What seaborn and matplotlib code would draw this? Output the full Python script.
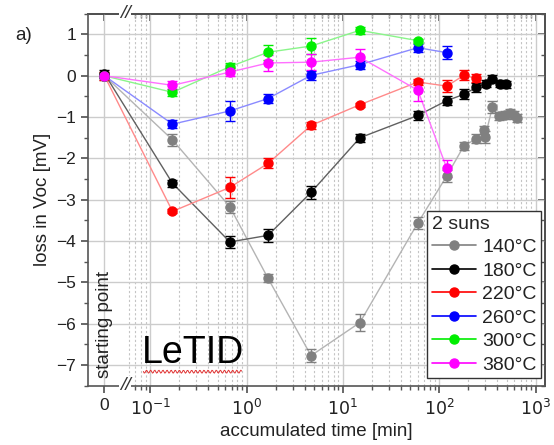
import numpy as np
import pandas as pd
import matplotlib
matplotlib.use("Agg")
import matplotlib.pyplot as plt
import seaborn as sns
from matplotlib.lines import Line2D
from matplotlib.ticker import FixedLocator, NullFormatter

# time 0 is drawn left of the axis break, at this log position
X0 = 10 ** -1.476

# 140 C
t_140 = [0, 0.17, 0.67, 1.67, 4.67, 15, 60, 120, 180, 243, 290, 300, 357, 415, 479, 540, 600, 650]
v_140 = [0.0, -1.55, -3.17, -4.9, -6.77, -5.97, -3.56, -2.42, -1.70, -1.52, -1.32, -1.48, -0.75, -0.98, -0.94, -0.90, -0.95, -1.02]
e_140 = [0.1, 0.15, 0.15, 0.1, 0.15, 0.2, 0.15, 0.15, 0.1, 0.1, 0.1, 0.15, 0.15, 0.1, 0.1, 0.1, 0.1, 0.1]
# 180 C
t_180 = [0, 0.17, 0.67, 1.67, 4.67, 15, 60, 120, 180, 243, 303, 357, 424, 490]
v_180 = [0.05, -2.6, -4.02, -3.86, -2.82, -1.5, -0.96, -0.6, -0.45, -0.28, -0.19, -0.07, -0.19, -0.21]
e_180 = [0.1, 0.08, 0.15, 0.15, 0.15, 0.1, 0.1, 0.1, 0.12, 0.1, 0.08, 0.08, 0.08, 0.08]
# 220 C
t_220 = [0, 0.17, 0.67, 1.67, 4.67, 15, 60, 120, 180, 243]
v_220 = [0.0, -3.28, -2.7, -2.12, -1.2, -0.7, -0.15, -0.25, 0.01, -0.06]
e_220 = [0.1, 0.05, 0.25, 0.12, 0.08, 0.05, 0.08, 0.15, 0.12, 0.1]
# 260 C
t_260 = [0, 0.17, 0.67, 1.67, 4.67, 15, 60, 120]
v_260 = [0.0, -1.17, -0.85, -0.55, 0.01, 0.27, 0.68, 0.56]
e_260 = [0.05, 0.1, 0.25, 0.1, 0.1, 0.1, 0.1, 0.15]
# 300 C
t_300 = [0, 0.17, 0.67, 1.67, 4.67, 15, 60]
v_300 = [0.0, -0.4, 0.22, 0.57, 0.72, 1.1, 0.85]
e_300 = [0.05, 0.08, 0.08, 0.18, 0.2, 0.08, 0.05]
# 380 C
t_380 = [0, 0.17, 0.67, 1.67, 4.67, 15, 60, 120]
v_380 = [0.0, -0.23, 0.09, 0.31, 0.33, 0.45, -0.35, -2.24]
e_380 = [0.05, 0.1, 0.1, 0.2, 0.2, 0.2, 0.25, 0.2]

labels = ["140°C", "180°C", "220°C", "260°C", "300°C", "380°C"]
series = [(t_140, v_140, e_140), (t_180, v_180, e_180), (t_220, v_220, e_220),
          (t_260, v_260, e_260), (t_300, v_300, e_300), (t_380, v_380, e_380)]
mcolors = ["#808080", "#000000", "#ff0000", "#0000ff", "#00ee00", "#ff00ff"]
lcolors = ["#b4b4b4", "#606060", "#ff8a8a", "#8a8aff", "#8af58a", "#ff70ff"]

rows = []
for lab, (t, v, e) in zip(labels, series):
    for ti, vi, ei in zip(t, v, e):
        rows.append({"temp": lab, "x": X0 if ti == 0 else ti, "loss": vi, "err": ei})
df = pd.DataFrame(rows)

sns.set_theme(style="ticks")
plt.rcParams["font.family"] = ["Liberation Sans", "DejaVu Sans"]
fig = plt.figure(figsize=(5.54, 4.45), dpi=100)
ax = fig.add_axes([0.159, 0.133, 0.825, 0.836])
ax.set_xscale("log")

sns.lineplot(data=df, x="x", y="loss", hue="temp", palette=dict(zip(labels, lcolors)),
             lw=1, ax=ax, legend=False, sort=False, zorder=2)
for lab, mc in zip(labels, mcolors):
    d = df[df.temp == lab]
    ax.errorbar(d.x, d.loss, yerr=d.err, fmt="o", ms=6.5, color=mc, ecolor=mc,
                elinewidth=1, capsize=3.5, capthick=1, zorder=3)

ax.set_xlim(10 ** -1.646, 10 ** 3.1)
ax.set_ylim(-7.5, 1.5)
ax.set_xticks([X0, 0.1, 1, 10, 100, 1000])
ax.set_xticklabels(["0", "$10^{-1}$", "$10^{0}$", "$10^{1}$", "$10^{2}$", "$10^{3}$"])
minor = [m * 10.0 ** k for k in range(-2, 3) for m in range(2, 10)]
minor = [x for x in minor if x > 0.055]
ax.xaxis.set_minor_locator(FixedLocator(minor))
ax.xaxis.set_minor_formatter(NullFormatter())
ax.set_yticks(range(-7, 2))
ax.yaxis.set_minor_locator(FixedLocator(np.arange(-7.5, 1.6, 0.5)))

ax.grid(True, which="major", color="#cccccc", lw=1, ls="-", zorder=0)
ax.grid(True, which="minor", axis="x", color="#c4c4c4", lw=0.8, ls=(0, (2, 2)), zorder=0)
ax.set_axisbelow(True)

for s in ax.spines.values():
    s.set_color("#555555")
    s.set_linewidth(1.2)
ax.tick_params(which="both", direction="out", top=False, right=False, colors="#555555",
               labelcolor="#222222", labelsize=12.5)
ax.tick_params(which="major", length=5)
ax.tick_params(which="minor", length=3)
sec_x = ax.secondary_xaxis("top")
sec_x.set_xticks([X0, 0.1, 1, 10, 100, 1000])
sec_x.xaxis.set_minor_locator(FixedLocator([x for x in minor if x > 0.065]))
sec_x.tick_params(which="both", direction="in", labeltop=False, colors="#555555")
sec_x.tick_params(which="major", length=5)
sec_x.tick_params(which="minor", length=3)
sec_y = ax.secondary_yaxis("right")
sec_y.set_yticks(range(-7, 2))
sec_y.yaxis.set_minor_locator(FixedLocator(np.arange(-7.5, 1.6, 0.5)))
sec_y.tick_params(which="both", direction="in", labelright=False, colors="#555555")
sec_y.tick_params(which="major", length=5)
sec_y.tick_params(which="minor", length=3)

ax.set_xlabel("accumulated time [min]", fontsize=13.5, color="#222222", labelpad=4)
ax.set_ylabel("loss in Voc [mV]", fontsize=13.5, color="#222222", labelpad=4)

# axis break marks
for yb in (0.0, 1.0):
    ax.text(0.081, yb, "//", transform=ax.transAxes, ha="center", va="center",
            fontsize=14, color="#333333", fontstyle="italic",
            bbox=dict(boxstyle="square,pad=0.05", fc="white", ec="none"))

ax.text(0.036, 0.02, "starting point", transform=ax.transAxes, rotation=90,
        ha="center", va="bottom", fontsize=13.5, color="#222222")
ax.text(0.118, 0.04, "LeTID", transform=ax.transAxes, ha="left", va="bottom",
        fontsize=27, color="black")
wx = np.linspace(0.121, 0.336, 120)
ax.plot(wx, 0.038 + 0.004 * np.sin(wx * 700), transform=ax.transAxes, color="#e03030", lw=0.7)
fig.text(0.027, 0.91, "a)", fontsize=13.5, color="#222222")

handles = [Line2D([0], [0], color=lc, lw=1.2, marker="o", ms=6.5, mfc=mc, mec=mc)
           for lc, mc in zip(mcolors, mcolors)]
leg = ax.legend(handles, labels, title="2 suns", loc="lower right",
                bbox_to_anchor=(0.992, 0.02), borderaxespad=0, fontsize=14,
                title_fontsize=14, handlelength=2.3, handletextpad=0.3,
                labelspacing=0.3, borderpad=0.25, fancybox=False, framealpha=1,
                edgecolor="#333333")
leg._legend_box.align = "left"
leg.get_frame().set_linewidth(1)
for t in leg.get_texts():
    t.set_color("#222222")

fig.savefig("out.png", dpi=100)
